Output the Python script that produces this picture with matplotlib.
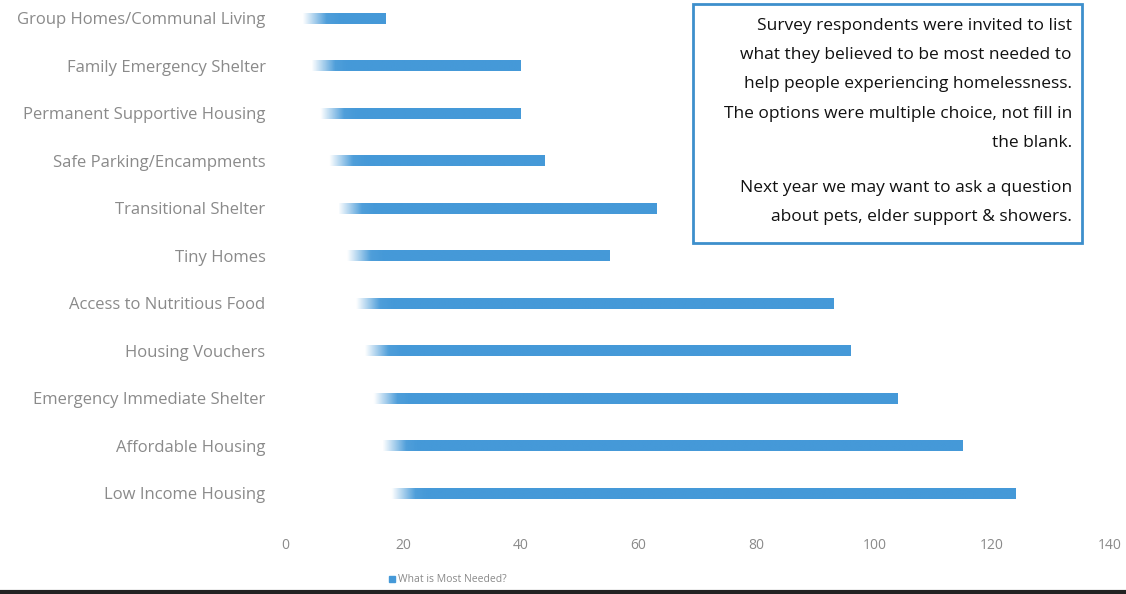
import numpy as np
import matplotlib
matplotlib.use("Agg")
from matplotlib import pyplot as plt
from matplotlib.patches import Rectangle
from matplotlib.colors import to_rgb

# categories listed bottom to top
categories = [
    "Low Income Housing",
    "Affordable Housing",
    "Emergency Immediate Shelter",
    "Housing Vouchers",
    "Access to Nutritious Food",
    "Tiny Homes",
    "Transitional Shelter",
    "Safe Parking/Encampments",
    "Permanent Supportive Housing",
    "Family Emergency Shelter",
    "Group Homes/Communal Living",
]
counts = [124, 115, 104, 96, 93, 55, 63, 44, 40, 40, 17]
x_ticks = [0, 20, 40, 60, 80, 100, 120, 140]
series_name = "What is Most Needed?"

note_main = ("Survey respondents were invited to list\n"
             "what they believed to be most needed to\n"
             "help people experiencing homelessness.\n"
             "The options were multiple choice, not fill in\n"
             "the blank.")
note_extra = ("Next year we may want to ask a question\n"
              "about pets, elder support & showers.")

BAR_COLOR = "#4599d8"
LABEL_COLOR = "#8a8a8a"

plt.rcParams['font.family'] = ['Open Sans', 'DejaVu Sans']

fig = plt.figure(figsize=(11.26, 5.94), dpi=100)
ax = fig.add_axes([285 / 1126, 77 / 594, 825 / 1126, 517 / 594])

y_pos = np.arange(len(categories))
bar_h = 0.23
bars = ax.barh(y_pos, counts, height=bar_h, color=BAR_COLOR, alpha=0.0)

# faded left ends like the scanned original
rgb = to_rgb(BAR_COLOR)
for y, val, rect in zip(y_pos, counts, bars):
    start = 18 - 1.5 * y
    xs = np.linspace(0, val, 400)
    alpha = np.clip((xs - start) / 4.0, 0, 1) * 0.85 + np.clip((xs - start) / 40.0, 0, 0.15)
    alpha[xs < start] = 0
    grad = np.zeros((1, len(xs), 4))
    grad[..., 0], grad[..., 1], grad[..., 2] = rgb
    grad[..., 3] = alpha
    im = ax.imshow(grad, extent=[0, val, y - bar_h / 2, y + bar_h / 2],
                   aspect='auto', interpolation='bilinear', zorder=2)
    rect.set_alpha(1.0)
    rect.set_facecolor('none')
    im.set_clip_path(rect)

ax.set_xlim(0, 140)
ax.set_ylim(-0.5, 10.38)
ax.set_xticks(x_ticks)
ax.set_yticks(y_pos)
ax.set_yticklabels(categories)
for s in ax.spines.values():
    s.set_visible(False)
ax.tick_params(axis='both', length=0, colors=LABEL_COLOR)
ax.tick_params(axis='y', pad=14, labelsize=12)
ax.tick_params(axis='x', pad=15, labelsize=10)

# note box
fig.patches.append(Rectangle((693 / 1126, 1 - 243 / 594), 389 / 1126, 239 / 594,
                             transform=fig.transFigure, facecolor='white',
                             edgecolor='#3d8fcc', linewidth=2, zorder=5))
fig.text(1072 / 1126, 1 - 18 / 594, note_main, ha='right', va='top',
         multialignment='right', fontsize=12.5, color='#111111',
         linespacing=2.1, zorder=6)
fig.text(1072 / 1126, 1 - 180 / 594, note_extra, ha='right', va='top',
         multialignment='right', fontsize=12.5, color='#111111',
         linespacing=2.1, zorder=6)

# legend
handle = Rectangle((0, 0), 1, 1, color=BAR_COLOR)
fig.legend([handle], [series_name], loc='center', bbox_to_anchor=(448 / 1126, 1 - 580 / 594),
           frameon=False, fontsize=7.5, labelcolor=LABEL_COLOR,
           handlelength=0.6, handleheight=0.6, handletextpad=0.3)

# dark scan edge at the bottom
fig.add_artist(plt.Line2D([0, 1], [2 / 594, 2 / 594], transform=fig.transFigure,
                          color='#222222', linewidth=3))

fig.savefig("out.png", dpi=100)
